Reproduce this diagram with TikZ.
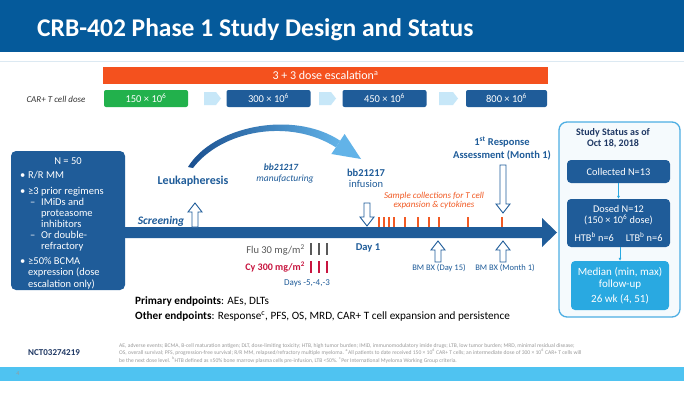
\documentclass[tikz,border=0pt]{standalone}
\usepackage{fontspec}
\setmainfont{Carlito}
\usetikzlibrary{arrows.meta}
\definecolor{band}{HTML}{055A9B}
\definecolor{dblue}{HTML}{1F5C99}
\definecolor{tblue}{HTML}{1F5C99}
\definecolor{navy}{HTML}{1F3864}
\definecolor{lchev}{HTML}{C7E7F8}
\definecolor{dgreen}{HTML}{22B14C}
\definecolor{orng}{HTML}{F4511E}
\definecolor{tickc}{HTML}{F15A24}
\definecolor{crim}{HTML}{C8153F}
\definecolor{sky}{HTML}{29A9E1}
\definecolor{sbord}{HTML}{4DAEE3}
\definecolor{sfill}{HTML}{F5FAFD}
\definecolor{footband}{HTML}{4FC3F1}
\definecolor{fgray}{HTML}{9A9A9A}
\definecolor{swl}{HTML}{1A4F8F}
\definecolor{swr}{HTML}{62B3E8}
\definecolor{rule}{HTML}{DCE9F2}
\newcommand\hup[3]{\draw[harrow] ({#1-3},#3) -- ({#1-3},{#2+9}) -- ({#1-7},{#2+9}) -- (#1,#2) -- ({#1+7},{#2+9}) -- ({#1+3},{#2+9}) -- ({#1+3},#3) -- cycle;}
\newcommand\hdown[3]{\draw[harrow] ({#1-3},#3) -- ({#1-3},{#2-9}) -- ({#1-7},{#2-9}) -- (#1,#2) -- ({#1+7},{#2-9}) -- ({#1+3},{#2-9}) -- ({#1+3},#3) -- cycle;}
\newcommand\chevshape[2]{\fill[lchev] (#1,92) -- ({#2-5},92) -- (#2,98.5) -- ({#2-5},105) -- (#1,105) -- cycle;}
\begin{document}
\begin{tikzpicture}[x=1pt,y=-1pt,
  dosebox/.style={rounded corners=2pt, minimum width=84pt, minimum height=17pt, inner sep=0pt, text=white, font=\fontsize{10.5}{11}\selectfont},
  harrow/.style={draw=tblue, fill=white, line width=0.9pt, line join=miter},
  lbl/.style={inner sep=0pt, text=tblue},
  lboxt/.style={inner sep=0pt, text=white, anchor=base west, font=\fontsize{10.5}{12}\selectfont},
  sbox/.style={rounded corners=4pt, minimum width=103pt, inner sep=0pt, text=white, align=center, font=\fontsize{10.3}{11.5}\selectfont},
  tickm/.style={draw=tickc, line width=1.6pt},
  foottxt/.style={inner sep=0pt, anchor=base west, text=fgray, font=\fontsize{5.6}{6}\selectfont},
]
\useasboundingbox (0,0) rectangle (684,412);
\fill[white] (0,0) rectangle (684,412);
% title band
\fill[band] (0,0) rectangle (684,52);
\node[anchor=west, inner sep=0pt, text=white, font=\bfseries\fontsize{25.5}{28}\selectfont] (title) at (37,30) {CRB-402 Phase 1 Study Design and Status};
\draw[rule, line width=1pt] (0,61) -- (684,61);
% dose escalation bar
\node[fill=orng, minimum width=445pt, minimum height=17pt, inner sep=0pt, text=white, font=\fontsize{12}{13}\selectfont] (esc) at (325.5,75.5) {3 + 3 dose escalation\textsuperscript{a}};
\node[inner sep=0pt, font=\itshape\fontsize{9}{10}\selectfont, text=black!80] (cardose) at (56,99) {CAR+ T cell dose};
\node[dosebox, fill=dgreen] (d150) at (146,98.5) {150 × 10\textsuperscript{6}};
\node[dosebox, fill=dblue] (d300) at (268.5,98.5) {300 × 10\textsuperscript{6}};
\node[dosebox, fill=dblue] (d450) at (384.5,98.5) {450 × 10\textsuperscript{6}};
\node[dosebox, fill=dblue, minimum width=81pt] (d800) at (506.5,98.5) {800 × 10\textsuperscript{6}};
\chevshape{204}{221}
\chevshape{319}{336}
\chevshape{439}{458}
% left box
\fill[dblue, rounded corners=5pt] (11,151) rectangle (125,290);
\node[inner sep=0pt, text=white, font=\fontsize{10.5}{12}\selectfont, anchor=base] (n50) at (68,164) {N = 50};
\node[lboxt] (b1) at (20,178) {•};
\node[lboxt] (t1) at (28,178) {R/R MM};
\node[lboxt] (b2) at (20,194) {•};
\node[lboxt] (t2) at (28,194) {≥3 prior regimens};
\node[lboxt] (s1) at (30,205.5) {–};
\node[lboxt] (t3) at (41,205.5) {IMiDs and};
\node[lboxt] (t4) at (41,216.5) {proteasome};
\node[lboxt] (t5) at (41,227) {inhibitors};
\node[lboxt] (s2) at (30,238.5) {–};
\node[lboxt] (t6) at (41,238.5) {Or double-};
\node[lboxt] (t7) at (41,249.5) {refractory};
\node[lboxt] (b3) at (20,264) {•};
\node[lboxt] (t8) at (28,264) {≥50\% BCMA};
\node[lboxt] (t9) at (28,275.5) {expression (dose};
\node[lboxt] (t10) at (28,287) {escalation only)};
% timeline arrow
\fill[dblue] (125,227) -- (542,227) -- (542,218) -- (557,232.5) -- (542,247) -- (542,238) -- (125,238) -- cycle;
% swoosh
\shade[left color=swl, right color=swr] (188,167) .. controls (212,127) and (292,109) .. (340.2,140.7) -- (335.8,147.3) .. controls (290,118) and (222,130) .. (193,168) -- cycle;
\fill[swr] (344.6,134) -- (361,159) -- (331.4,154) -- cycle;
% labels above timeline
\node[lbl, font=\bfseries\itshape\fontsize{11.5}{13}\selectfont] (scr) at (161,221) {Screening};
\hup{195}{203}{227}
\node[lbl, font=\bfseries\fontsize{12}{13}\selectfont] (leuk) at (193,181) {Leukapheresis};
\node[lbl, font=\bfseries\itshape\fontsize{9.5}{11}\selectfont] (bbm) at (281,167) {bb21217};
\node[lbl, font=\itshape\fontsize{9.5}{11}\selectfont] (manu) at (285,179) {manufacturing};
\node[lbl, font=\bfseries\fontsize{10.5}{12}\selectfont] (bbi) at (366,173) {bb21217};
\node[lbl, font=\fontsize{10.5}{12}\selectfont] (inf) at (366,184) {infusion};
\hdown{367}{226}{203}
\foreach \x in {379,384,389,394,405,418,429,439,468,502} \draw[tickm] (\x,217) -- (\x,227);
\node[inner sep=0pt, text=tickc, font=\itshape\fontsize{9}{10}\selectfont] (samp1) at (434,196) {Sample collections for T cell};
\node[inner sep=0pt, text=tickc, font=\itshape\fontsize{9}{10}\selectfont] (samp2) at (434,205.5) {expansion \& cytokines};
\node[lbl, font=\bfseries\fontsize{10.5}{12}\selectfont] (resp1) at (502,142) {1\textsuperscript{st} Response};
\node[lbl, font=\bfseries\fontsize{10.5}{12}\selectfont] (resp2) at (502,155.5) {Assessment (Month 1)};
\hdown{503}{213}{165}
% below timeline
\hup{438}{241}{262}
\hup{503}{241}{262}
\node[lbl, font=\fontsize{8.5}{9}\selectfont] (bmx1) at (439,268) {BM BX (Day 15)};
\node[lbl, font=\fontsize{8.5}{9}\selectfont] (bmx2) at (505,268) {BM BX (Month 1)};
\node[lbl, font=\bfseries\fontsize{10.5}{12}\selectfont] (day1) at (368,248) {Day 1};
\node[inner sep=0pt, anchor=east, text=black!65, font=\fontsize{10.5}{11}\selectfont] (flu) at (305,250) {Flu 30 mg/m\textsuperscript{2}};
\node[inner sep=0pt, anchor=east, text=crim, font=\bfseries\fontsize{10}{11}\selectfont] (cy) at (305,267) {Cy 300 mg/m\textsuperscript{2}};
\foreach \x in {311,319,327} {
  \draw[black!65, line width=2.4pt] (\x,243) -- (\x,255);
  \draw[crim, line width=2.4pt] (\x,261) -- (\x,273);
}
\node[lbl, font=\fontsize{9}{10}\selectfont] (days) at (307,283) {Days -5,-4,-3};
\node[inner sep=0pt, anchor=base west, font=\fontsize{11.2}{12}\selectfont] (prim) at (135,304.5) {\textbf{Primary endpoints}: AEs, DLTs};
\node[inner sep=0pt, anchor=base west, font=\fontsize{11.2}{12}\selectfont] (oth) at (135,319.5) {\textbf{Other endpoints}: Response\textsuperscript{c}, PFS, OS, MRD, CAR+ T cell expansion and persistence};
% status box
\draw[sbord, line width=1.3pt, rounded corners=8pt, fill=sfill] (559,122) rectangle (680,317);
\node[inner sep=0pt, text=navy, align=center, font=\bfseries\fontsize{10}{11}\selectfont] (stat) at (613,138) {Study Status as of\\Oct 18, 2018};
\node[sbox, fill=dblue, minimum height=23pt] (coll) at (618.5,171.5) {Collected N=13};
\node[sbox, fill=dblue, minimum height=48pt] (dosed) at (618.5,223) {Dosed N=12\\(150 × 10\textsuperscript{6} dose)\\[6pt]HTB\textsuperscript{b} n=6\hspace{12pt}LTB\textsuperscript{b} n=6};
\node[sbox, fill=sky, minimum height=49pt, minimum width=98pt, font=\fontsize{11}{12}\selectfont] (med) at (620,285.5) {Median (min, max)\\follow-up\\[3pt]26 wk (4, 51)};
\draw[sky, line width=0.8pt, -{Latex[length=3pt,width=3pt]}] (coll) -- (dosed);
\draw[sky, line width=0.8pt, -{Latex[length=3pt,width=3pt]}] (dosed.south -| med.north) -- (med);
% footer
\node[inner sep=0pt, anchor=west, text=navy, font=\bfseries\fontsize{9}{10}\selectfont] (nct) at (28,353) {NCT03274219};
\node[foottxt] (f1) at (119,347) {AE, adverse events; BCMA, B-cell maturation antigen; DLT, dose-limiting toxicity; HTB, high tumor burden; IMiD, immunomodulatory imide drugs; LTB, low tumor burden; MRD, minimal residual disease;};
\node[foottxt] (f2) at (119,354.5) {OS, overall survival; PFS, progression-free survival; R/R MM, relapsed/refractory multiple myeloma. \textsuperscript{a}All patients to date received 150 × 10\textsuperscript{6} CAR+ T cells; an intermediate dose of 300 × 10\textsuperscript{6} CAR+ T cells will};
\node[foottxt] (f3) at (119,362) {be the next dose level. \textsuperscript{b}HTB defined as ≥50\% bone marrow plasma cells pre-infusion, LTB <50\%. \textsuperscript{c}Per International Myeloma Working Group criteria.};
\fill[footband] (0,367) rectangle (684,381);
\node[inner sep=0pt, text=fgray, font=\fontsize{6}{7}\selectfont] (pg) at (18,374) {4};
\end{tikzpicture}
\end{document}
